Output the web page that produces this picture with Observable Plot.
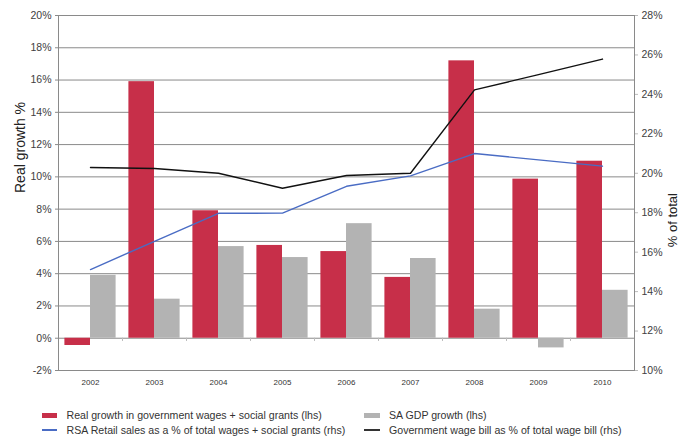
<!DOCTYPE html>
<html><head><meta charset="utf-8">
<script src="https://cdn.jsdelivr.net/npm/d3@7"></script>
<script src="https://cdn.jsdelivr.net/npm/@observablehq/plot@0.6"></script>
<style>
body{margin:0;background:#fff;font-family:"Liberation Sans",Arial,sans-serif;}
#chart{position:relative;width:688px;height:439px;overflow:hidden;}
#chart svg{position:absolute;left:0;top:0;}
.leg{position:absolute;font-size:10.6px;color:#333;line-height:12px;white-space:nowrap;}
.sw{position:absolute;}
</style></head><body><div id="chart"></div>
<script>
const years = ["2002","2003","2004","2005","2006","2007","2008","2009","2010"];
const realGrowth = [-0.45, 15.9, 7.9, 5.75, 5.37, 3.77, 17.19, 9.86, 10.97];
const gdpGrowth = [3.9, 2.42, 5.68, 5.0, 7.1, 4.94, 1.8, -0.6, 2.97];
const retailShare = [15.12, 16.55, 17.97, 17.98, 19.34, 19.87, 21.0, 20.68, 20.36];
const wageBillShare = [20.29, 20.24, 20.0, 19.24, 19.89, 20.0, 24.23, 25.0, 25.79];
const leftTicks = [-2, 0, 2, 4, 6, 8, 10, 12, 14, 16, 18, 20];
const rightTicks = [10, 12, 14, 16, 18, 20, 22, 24, 26, 28];
const leftTitle = ["Real growth %"];
const rightTitle = ["% of total"];
const legendLabels = [
  "Real growth in government wages + social grants (lhs)",
  "SA GDP growth (lhs)",
  "RSA Retail sales as a % of total wages + social grants (rhs)",
  "Government wage bill as % of total wage bill (rhs)"
];

const RED = "#c72f49", GRAY = "#b3b3b3", BLUE = "#4a6cc4", BLACK = "#111";
const GRID = "#8a8a8a";
// right axis (10..28) mapped onto left axis (-2..20)
const toLeft = v => -2 + (v - 10) * 22 / 18;
const fromLeft = l => 10 + (l + 2) * 18 / 22;

const rows = years.map((year, i) => ({
  year, real: realGrowth[i], gdp: gdpGrowth[i], retail: retailShare[i], wage: wageBillShare[i]
}));

const W = 688, H = 395, ML = 58, MR = 54, MT = 15, MB = 25;
const step = (W - ML - MR) / (years.length - 0.2 + 0.2);
const bw = step * 0.8;

const chart = Plot.plot({
  width: W, height: H, marginLeft: ML, marginRight: MR, marginTop: MT, marginBottom: MB,
  style: {fontFamily: "'Liberation Sans', Arial, sans-serif", background: "#fff", color: "#404040", overflow: "visible"},
  x: {type: "band", domain: years, paddingInner: 0.2, paddingOuter: 0.1, round: false, axis: null},
  y: {domain: [-2, 20], axis: null},
  marks: [
    Plot.ruleY(leftTicks, {stroke: GRID, strokeWidth: 1}),
    Plot.frame({stroke: GRID, strokeWidth: 1}),
    Plot.barY(rows, {x: "year", y: "real", fill: RED, insetRight: bw / 2}),
    Plot.barY(rows, {x: "year", y: "gdp", fill: GRAY, insetLeft: bw / 2}),
    Plot.ruleX(years.slice(0, -1), {x: d => d, y1: 0, y2: -0.2, dx: step / 2, stroke: "#bbb"}),
    Plot.lineY(rows, {x: "year", y: d => toLeft(d.retail), stroke: BLUE, strokeWidth: 1.4}),
    Plot.lineY(rows, {x: "year", y: d => toLeft(d.wage), stroke: BLACK, strokeWidth: 1.4}),
    Plot.axisY({anchor: "left", ticks: leftTicks, tickFormat: d => d + "%", tickSize: 3, tickPadding: 4, fontSize: 10.5, stroke: GRID, fill: "#404040", label: null}),
    Plot.axisY({anchor: "right", ticks: rightTicks.map(toLeft), tickFormat: d => Math.round(fromLeft(d)) + "%", tickSize: 3, tickPadding: 4, fontSize: 10.5, stroke: "#bbb", fill: "#404040", label: null}),
    Plot.axisX({anchor: "bottom", tickSize: 0, tickPadding: 9, fontSize: 8, fill: "#333", label: null}),
    Plot.text(leftTitle, {text: d => d, frameAnchor: "left", dx: -38, rotate: -90, fontSize: 14, fill: "#222"}),
    Plot.text(rightTitle, {text: d => d, frameAnchor: "right", dx: 38, dy: 0, rotate: -90, fontSize: 13, fill: "#222"})
  ]
});

const root = document.getElementById("chart");
root.appendChild(chart);

// legend
const legendItems = [
  {label: legendLabels[0], color: RED, kind: "bar", sx: 41.5, tx: 66.5, cy: 415.7},
  {label: legendLabels[1], color: GRAY, kind: "bar", sx: 364, tx: 389, cy: 415.7},
  {label: legendLabels[2], color: BLUE, kind: "line", sx: 41.5, tx: 66.5, cy: 430},
  {label: legendLabels[3], color: "#333", kind: "line", sx: 364, tx: 389, cy: 430}
];
for (const it of legendItems) {
  const sw = document.createElement("div");
  sw.className = "sw";
  const h = it.kind === "bar" ? 5 : 1.5;
  sw.style.cssText = `left:${it.sx}px;top:${it.cy - h / 2}px;width:15.5px;height:${h}px;background:${it.color};`;
  root.appendChild(sw);
  const t = document.createElement("div");
  t.className = "leg";
  t.style.left = it.tx + "px";
  t.style.top = (it.cy - 6.5) + "px";
  t.textContent = it.label;
  root.appendChild(t);
}
</script></body></html>
